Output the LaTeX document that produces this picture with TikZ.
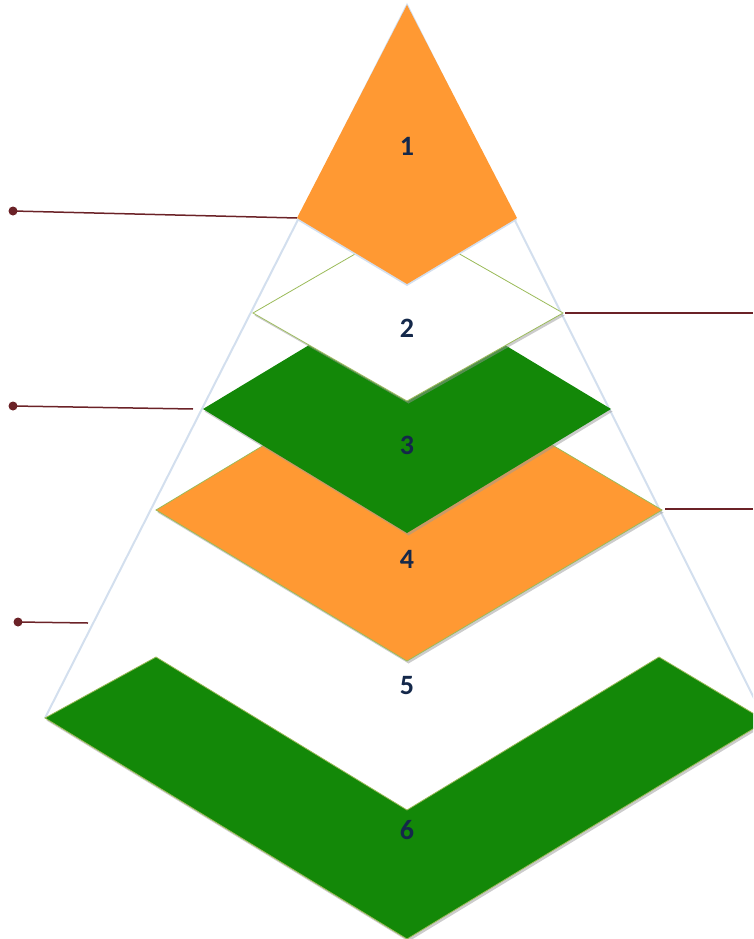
\documentclass[tikz,border=0pt]{standalone}
\usepackage{fontspec}
\setmainfont{Carlito}
\usetikzlibrary{shadows}
\definecolor{saffron}{HTML}{FF9933}
\definecolor{igreen}{HTML}{138808}
\definecolor{navy}{HTML}{14284A}
\definecolor{outl}{HTML}{D3DFEE}
\definecolor{edgeg}{HTML}{9BBB59}
\definecolor{maroon}{HTML}{6B2227}
\tikzset{
  lvl/.style={line width=0.8pt, draw=edgeg, drop shadow={shadow xshift=1.5pt, shadow yshift=-2.5pt, fill=black!40, opacity=0.5}},
  num/.style={font=\bfseries\fontsize{28}{32}\selectfont, text=navy},
  callout/.style={draw=maroon, line width=1.5pt},
  dot/.style={circle, fill=maroon, inner sep=0pt, minimum size=9pt}
}
\begin{document}
\begin{tikzpicture}[x=1pt,y=-1pt]
\useasboundingbox (0,0) rectangle (753,939);
\clip (0,0) rectangle (753,939);
% pyramid outline
\coordinate (apex) at (407,5);
\coordinate (bl) at (45,718);
\coordinate (br) at (775,740);
\draw[outl, line width=2pt] (bl) -- (apex) -- (br);
% level 6 chevron
\fill[igreen, lvl] (45,718) -- (156,657) -- (407,810) -- (659,657) -- (766,721) -- (407,939) -- cycle;
% level 4
\fill[saffron, lvl] (156,510) -- (407,359) -- (662,510) -- (407,661) -- cycle;
% level 3
\fill[igreen, drop shadow={shadow xshift=1.5pt, shadow yshift=-2.5pt, fill=black!40, opacity=0.5}] (203,409) -- (407,286) -- (611,409) -- (407,533) -- cycle;
% level 2
\fill[white, lvl] (253,313) -- (407,224) -- (563,313) -- (407,401) -- cycle;
% level 1
\fill[saffron, drop shadow={shadow xshift=0pt, shadow yshift=-2pt, fill=outl, opacity=1}] (407,5) -- (517,218) -- (407,284) -- (297,218) -- cycle;
% labels
\node[num] (n1) at (407,146) {1};
\node[num] (n2) at (407,328) {2};
\node[num] (n3) at (407,445) {3};
\node[num] (n4) at (407,559) {4};
\node[num] (n5) at (407,686) {5};
\node[num] (n6) at (407,830) {6};
% callouts
\coordinate (c1) at (297,218);
\coordinate (c2) at (565,313);
\coordinate (c3) at (193,409);
\coordinate (c4) at (665,509);
\coordinate (c5) at (88,623);
\coordinate (e2) at (753,313);
\coordinate (e4) at (753,509);
\node[dot] (d1) at (13,211) {};
\node[dot] (d3) at (13,406) {};
\node[dot] (d5) at (18,622) {};
\draw[callout] (d1.center) -- (c1);
\draw[callout] (d3.center) -- (c3);
\draw[callout] (d5.center) -- (c5);
\draw[callout] (c2) -- (e2);
\draw[callout] (c4) -- (e4);
\end{tikzpicture}
\end{document}
